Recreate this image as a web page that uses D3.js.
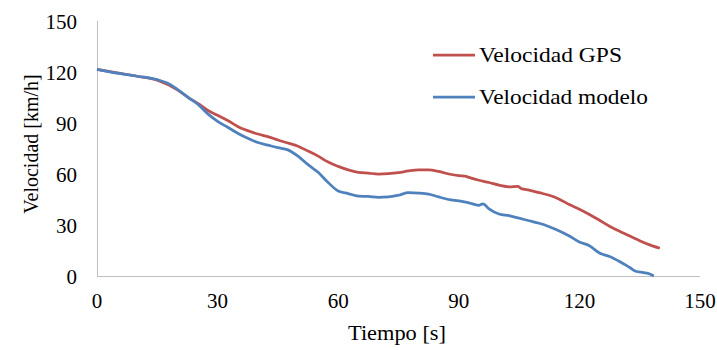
<!DOCTYPE html>
<html><head><meta charset="utf-8">
<script src="https://cdn.jsdelivr.net/npm/d3@7"></script>
<style>html,body{margin:0;padding:0;background:#fff;}svg{display:block;}</style>
</head><body>
<script>
const xTicks = [0, 30, 60, 90, 120, 150];
const yTicks = [0, 30, 60, 90, 120, 150];
const seriesNames = ["Velocidad GPS", "Velocidad modelo"];
const seriesColors = ["#C0504D", "#4F81BD"];

const timeGPS = [0,5,10,15,20,23,25,27.5,30,32.5,35,37.5,40,42.5,45,47.5,50,52.5,55,57.5,60,62.5,65,67.5,70,72.5,75,77.5,80,82.5,85,87.5,90,91.5,92.5,95,97.5,100,102.5,104.7,105.5,107.5,110,112.5,115,117.5,120,122.5,125,127.5,130,132.5,135,137.5,140];
const speedGPS = [121.6,119.5,117.5,115.2,109.5,104.5,101.7,97.5,94.5,91.5,88,85.5,83.5,82,80,78.2,76.3,73.5,70.5,67,64.5,62.4,61,60.5,60,60.2,60.8,61.8,62.4,62.4,61.5,60,59,58.8,58,56.3,55,53.5,52.5,52.7,51.5,50.5,49,47.5,45.2,42,39.3,36.2,32.8,29.3,26.3,23.5,20.8,18.3,16.3];

const timeModel = [0,5,10,15,17.5,20,23,25,27.5,30,32.5,35,37.5,40,42.5,45,47.5,50,52.5,55,57.5,60,62.5,65,67.5,70,72.5,75,77.5,80,82.5,85,87.5,90,92.5,95,96,97.5,100,102.5,105,107.5,110,112.5,115,117.5,120,122.5,125,127.5,130,132.5,134,136,137.5,138.5];
const speedModel = [121.6,119.3,117.5,115.5,113.5,109.8,104.5,101.2,95.5,91,87.5,84,81,78.5,77,75.5,74.2,70.5,65.5,61,55,50,48.5,47,46.8,46.3,46.5,47.5,49,48.8,48.2,46.5,45,44.2,43,41.6,42.5,39.5,36.5,35.5,34,32.5,31,29,26.5,23.5,20,17.8,13.5,11.5,8.5,5,2.8,2,1.2,0];

const W = 717, H = 350;
const x0 = 97, x1 = 700, y0 = 276, y1 = 21;
const svg = d3.select("body").append("svg").attr("width", W).attr("height", H);
const x = d3.scaleLinear().domain([0, 150]).range([x0, x1]);
const y = d3.scaleLinear().domain([0, 150]).range([y0, y1]);
const font = "'Liberation Serif','Times New Roman',serif";

// axes lines
svg.append("line").attr("x1", x0).attr("x2", x0).attr("y1", y1).attr("y2", y0)
  .attr("stroke", "#BFBFBF").attr("stroke-width", 1).attr("shape-rendering","crispEdges");
svg.append("line").attr("x1", x0).attr("x2", x1).attr("y1", y0).attr("y2", y0)
  .attr("stroke", "#BFBFBF").attr("stroke-width", 1).attr("shape-rendering","crispEdges");

// tick labels
svg.selectAll(".yt").data(yTicks).enter().append("text")
  .attr("x", 77).attr("y", d => y(d) + 7.5)
  .attr("text-anchor", "end").attr("font-family", font).attr("font-size", 21).attr("fill", "#000")
  .text(d => d);
svg.selectAll(".xt").data(xTicks).enter().append("text")
  .attr("x", d => x(d)).attr("y", 308)
  .attr("text-anchor", "middle").attr("font-family", font).attr("font-size", 21).attr("fill", "#000")
  .text(d => d);

// axis titles
svg.append("text").attr("x", 348).attr("y", 340)
  .attr("font-family", font).attr("font-size", 21)
  .attr("textLength", 98).attr("lengthAdjust", "spacingAndGlyphs").text("Tiempo [s]");
svg.append("text").attr("transform", "translate(38,144) rotate(-90)").attr("text-anchor", "middle")
  .attr("font-family", font).attr("font-size", 20).text("Velocidad [km/h]");

// lines
const line = d3.line().x(d => x(d[0])).y(d => y(d[1])).curve(d3.curveMonotoneX);
const gps = timeGPS.map((t, i) => [t, speedGPS[i]]);
const model = timeModel.map((t, i) => [t, speedModel[i]]);
svg.append("path").datum(gps).attr("d", line).attr("fill", "none")
  .attr("stroke", seriesColors[0]).attr("stroke-width", 2.75).attr("stroke-linejoin","round");
svg.append("path").datum(model).attr("d", line).attr("fill", "none")
  .attr("stroke", seriesColors[1]).attr("stroke-width", 2.75).attr("stroke-linejoin","round");

// legend
const legLen = [143, 169];
const leg = svg.append("g");
seriesNames.forEach((n, i) => {
  const ly = 55 + i * 42;
  leg.append("line").attr("x1", 433).attr("x2", 475).attr("y1", ly).attr("y2", ly)
    .attr("stroke", seriesColors[i]).attr("stroke-width", 2.75);
  leg.append("text").attr("x", 479).attr("y", ly + 7).attr("font-family", font)
    .attr("font-size", 21).attr("textLength", legLen[i]).attr("lengthAdjust", "spacingAndGlyphs").text(n);
});
</script>
</body></html>
